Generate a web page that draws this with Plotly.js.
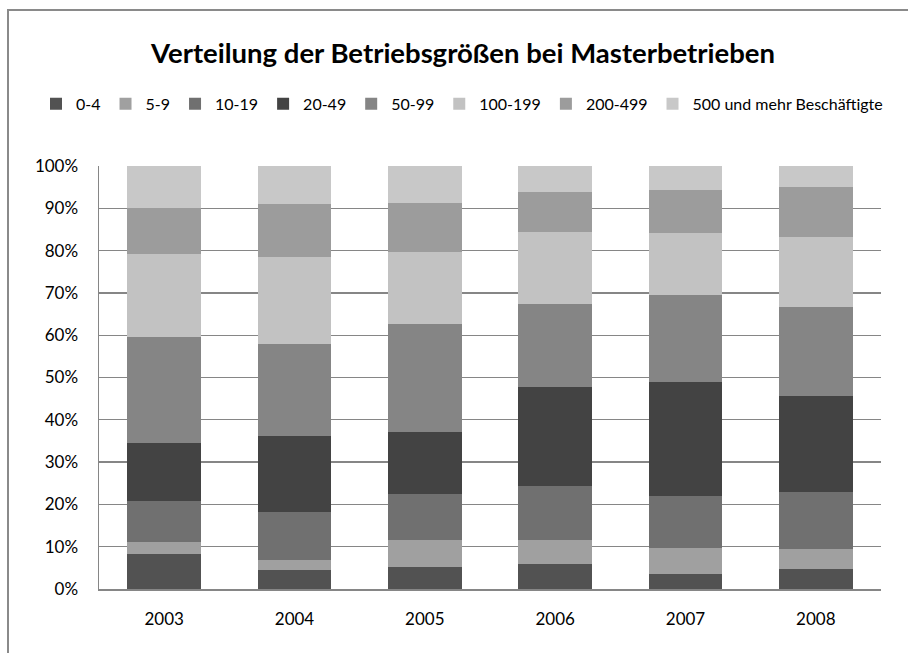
<!DOCTYPE html>
<html>
<head>
<meta charset="utf-8">
<script src="https://cdn.plot.ly/plotly-3.0.1.min.js"></script>
<style>
  html, body { margin: 0; padding: 0; background: #fff; }
  #wrap { position: relative; width: 908px; height: 653px; overflow: hidden; }
  #frame { position: absolute; left: 7px; top: 9px; width: 1000px; height: 1000px;
           border-left: 2px solid #8a8a8a; border-top: 2px solid #8a8a8a; box-sizing: border-box; }
  #chart { position: absolute; left: 0; top: 0; width: 908px; height: 653px; }
</style>
</head>
<body>
<div id="wrap">
  <div id="frame"></div>
  <div id="chart"></div>
</div>
<script>
const years = ['2003', '2004', '2005', '2006', '2007', '2008'];
const seriesNames = ['0-4', '5-9', '10-19', '20-49', '50-99', '100-199', '200-499', '500 und mehr Beschäftigte'];
const s0_4     = [8.3, 4.6, 5.2, 5.9, 3.6, 4.7];
const s5_9     = [2.8, 2.2, 6.5, 5.6, 6.1, 4.7];
const s10_19   = [9.7, 11.3, 10.7, 12.8, 12.2, 13.5];
const s20_49   = [13.7, 18.1, 14.7, 23.5, 27.1, 22.8];
const s50_99   = [25.1, 21.7, 25.6, 19.6, 20.6, 20.9];
const s100_199 = [19.7, 20.6, 17.0, 17.1, 14.6, 16.7];
const s200_499 = [10.8, 12.4, 11.6, 9.4, 10.1, 11.8];
const s500     = [9.9, 9.1, 8.7, 6.1, 5.7, 4.9];
const seriesValues = [s0_4, s5_9, s10_19, s20_49, s50_99, s100_199, s200_499, s500];
const colors = ['#525252', '#a0a0a0', '#707070', '#434343', '#858585', '#c2c2c2', '#9c9c9c', '#c8c8c8'];

const font = 'Lato, "Open Sans", sans-serif';

const data = seriesNames.map((name, i) => ({
  type: 'bar',
  name: name,
  x: years,
  y: seriesValues[i],
  marker: { color: colors[i], line: { width: 0 } }
}));

const layout = {
  width: 908,
  height: 653,
  paper_bgcolor: 'rgba(0,0,0,0)',
  plot_bgcolor: 'rgba(0,0,0,0)',
  margin: { l: 99, r: 27, t: 166, b: 64, pad: 0 },
  barmode: 'stack',
  barnorm: 'percent',
  bargap: 0.435,
  font: { family: font, size: 17, color: '#000' },
  title: {
    text: '<b>Verteilung der Betriebsgrößen bei Masterbetrieben</b>',
    font: { family: font, size: 27.5, color: '#000' },
    x: 0.51, xanchor: 'center', xref: 'container',
    y: 1 - 53 / 653, yanchor: 'middle', yref: 'container'
  },
  showlegend: true,
  legend: {
    orientation: 'h',
    x: (36 - 99) / 782, xanchor: 'left',
    y: 1.147, yanchor: 'middle',
    font: { family: font, size: 16, color: '#000' },
    itemwidth: 30,
    traceorder: 'normal',
    bgcolor: 'rgba(0,0,0,0)'
  },
  xaxis: {
    type: 'category',
    showline: true, linecolor: '#868686', linewidth: 1.5,
    ticks: '', showgrid: false,
    tickfont: { family: font, size: 17, color: '#000' },
    ticklabelstandoff: 14
  },
  yaxis: {
    range: [0, 100],
    dtick: 10,
    ticksuffix: '%',
    showline: true, linecolor: '#868686', linewidth: 1.5,
    showgrid: true, gridcolor: '#868686', gridwidth: 1.3,
    zeroline: false,
    ticks: '',
    tickfont: { family: font, size: 17, color: '#000' },
    ticklabelstandoff: 16
  }
};

Plotly.newPlot('chart', data, layout, { staticPlot: true, displayModeBar: false });
</script>
</body>
</html>
